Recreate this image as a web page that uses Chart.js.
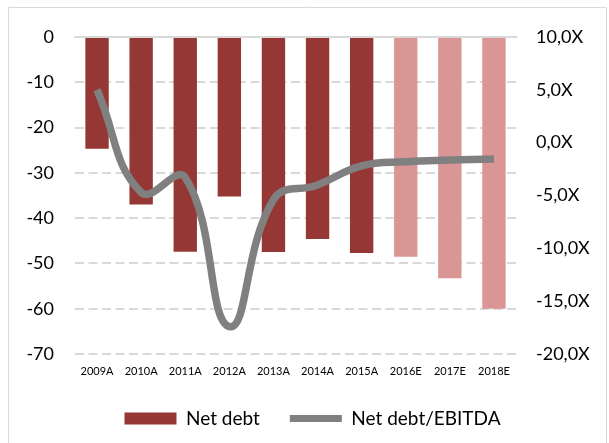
<!DOCTYPE html>
<html>
<head>
<meta charset="utf-8">
<script src="https://cdn.jsdelivr.net/npm/chart.js@4"></script>
<style>
  html, body { margin: 0; padding: 0; background: #ffffff; }
  #wrap { position: absolute; left: 0; top: 0; width: 609px; height: 443px; }
</style>
</head>
<body>
<div id="wrap"><canvas id="c" width="609" height="443"></canvas></div>
<script>
const categories = ['2009A','2010A','2011A','2012A','2013A','2014A','2015A','2016E','2017E','2018E'];
const netDebt = [-24.7, -37.0, -47.4, -35.2, -47.5, -44.6, -47.7, -48.5, -53.3, -60.0];
const netDebtEbitda = [5.0, -4.7, -3.3, -17.4, -5.4, -4.0, -2.2, -1.8, -1.65, -1.55];
const isEstimate = [false, false, false, false, false, false, false, true, true, true];
const seriesLabels = ['Net debt', 'Net debt/EBITDA'];

const DARK = '#953735';
const LIGHT = '#D99694';
const GREY = '#808080';
const GRID = '#d9d9d9';
const FONT = 'Lato, "Open Sans", "Liberation Sans", sans-serif';

const frame = {
  id: 'frame',
  afterLayout(chart) {
    if (chart.legend) { chart.legend.left += 16; }
  },
  afterDraw(chart) {
    const ctx = chart.ctx;
    ctx.save();
    ctx.strokeStyle = GRID;
    ctx.lineWidth = 1;
    ctx.beginPath();
    ctx.moveTo(8.5, 443);
    ctx.lineTo(8.5, 7.5);
    ctx.lineTo(606.5, 7.5);
    ctx.lineTo(606.5, 443);
    ctx.stroke();
    ctx.restore();
  }
};

new Chart(document.getElementById('c'), {
  data: {
    labels: categories,
    datasets: [
      {
        type: 'bar',
        label: seriesLabels[0],
        data: netDebt,
        backgroundColor: isEstimate.map(e => e ? LIGHT : DARK),
        borderWidth: 0,
        categoryPercentage: 1,
        barPercentage: 0.53,
        xAxisID: 'x',
        yAxisID: 'y',
        order: 2
      },
      {
        type: 'line',
        label: seriesLabels[1],
        data: netDebtEbitda,
        borderColor: GREY,
        backgroundColor: GREY,
        borderWidth: 7.5,
        pointRadius: 0,
        tension: 0.45,
        fill: false,
        xAxisID: 'x',
        yAxisID: 'y1',
        order: 1
      }
    ]
  },
  options: {
    responsive: false,
    animation: false,
    layout: { padding: { top: 37, left: 0, right: 0, bottom: 5 } },
    plugins: {
      tooltip: { enabled: false },
      legend: {
        position: 'bottom',
        labels: {
          font: { family: FONT, size: 19 },
          color: '#000',
          usePointStyle: true,
          pointStyleWidth: 52,
          boxHeight: 12,
          padding: 30,
          generateLabels: (chart) => chart.data.datasets.map((ds, i) => ({
            text: ds.label,
            fillStyle: i === 0 ? DARK : GREY,
            strokeStyle: GREY,
            lineWidth: i === 0 ? 0 : 7,
            pointStyle: i === 0 ? 'rect' : 'line',
            datasetIndex: i,
            hidden: false,
            fontColor: '#000'
          }))
        }
      }
    },
    scales: {
      x: {
        grid: { display: false, drawTicks: false },
        border: { display: false },
        ticks: { font: { family: FONT, size: 11 }, color: '#000', padding: 11, maxRotation: 0, autoSkip: false },
        afterFit: (s) => { s.height = 25; }
      },
      xTop: {
        type: 'category',
        position: 'top',
        grid: { display: false, drawTicks: false },
        border: { display: true, color: GRID, width: 2 },
        ticks: { display: false },
        afterFit: (s) => { s.height = 0; }
      },
      y: {
        position: 'left',
        min: -70, max: 0,
        ticks: { stepSize: 10, font: { family: FONT, size: 18 }, color: '#000', padding: 21 },
        grid: { color: GRID, lineWidth: 2, drawTicks: false },
        border: { display: false, dash: [9, 4.5] },
        afterFit: (s) => { s.width = 75; }
      },
      y1: {
        position: 'right',
        min: -20, max: 10,
        ticks: {
          stepSize: 5,
          font: { family: FONT, size: 18 },
          color: '#000',
          padding: 20,
          callback: (v) => v.toFixed(1).replace('.', ',') + 'X'
        },
        grid: { drawOnChartArea: false, drawTicks: false },
        border: { display: false },
        afterFit: (s) => { s.width = 93; }
      }
    }
  },
  plugins: [frame]
});
</script>
</body>
</html>
